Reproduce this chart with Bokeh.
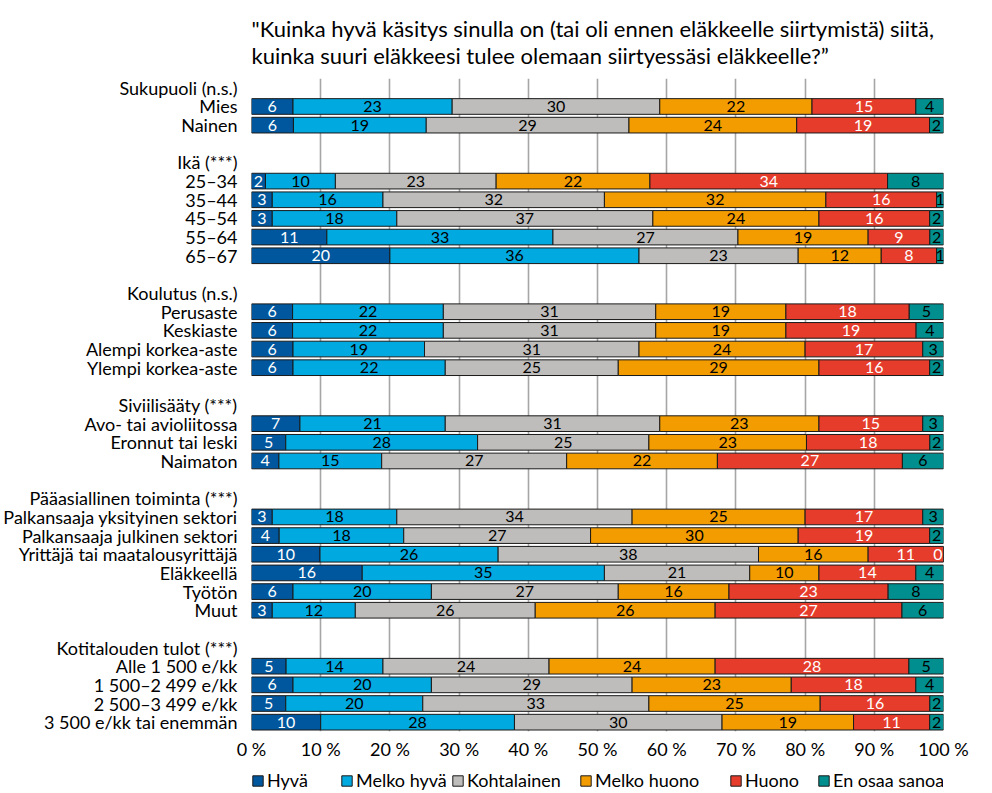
from bokeh.plotting import figure
from bokeh.layouts import column
from bokeh.models import (ColumnDataSource, FixedTicker, Range1d, Legend, LegendItem, Title)
from bokeh.core.properties import value
from bokeh.embed import file_html
from bokeh.resources import INLINE

FONT = "Lato"

title_text = ('"Kuinka hyvä käsitys sinulla on (tai oli ennen eläkkeelle siirtymistä) siitä,\n'
              'kuinka suuri eläkkeesi tulee olemaan siirtyessäsi eläkkeelle?\u201d')

series = ["Hyvä", "Melko hyvä", "Kohtalainen", "Melko huono", "Huono", "En osaa sanoa"]
colors = ["#00579D", "#00A9E0", "#BEBDBB", "#F39C00", "#E53C2B", "#008E8E"]
label_colors = ["white", "black", "black", "black", "white", "black"]

group_titles = ["Sukupuoli (n.s.)", "Ikä (***)", "Koulutus (n.s.)", "Siviilisääty (***)",
                "Pääasiallinen toiminta (***)", "Kotitalouden tulot (***)"]
group_items = [
    ["Mies", "Nainen"],
    ["25–34", "35–44", "45–54", "55–64", "65–67"],
    ["Perusaste", "Keskiaste", "Alempi korkea-aste", "Ylempi korkea-aste"],
    ["Avo- tai avioliitossa", "Eronnut tai leski", "Naimaton"],
    ["Palkansaaja yksityinen sektori", "Palkansaaja julkinen sektori",
     "Yrittäjä tai maatalousyrittäjä", "Eläkkeellä", "Työtön", "Muut"],
    ["Alle 1 500 e/kk", "1 500–2 499 e/kk", "2 500–3 499 e/kk", "3 500 e/kk tai enemmän"],
]

hyva        = [6, 6, 2, 3, 3, 11, 20, 6, 6, 6, 6, 7, 5, 4, 3, 4, 10, 16, 6, 3, 5, 6, 5, 10]
melko_hyva  = [23, 19, 10, 16, 18, 33, 36, 22, 22, 19, 22, 21, 28, 15, 18, 18, 26, 35, 20, 12, 14, 20, 20, 28]
kohtalainen = [30, 29, 23, 32, 37, 27, 23, 31, 31, 31, 25, 31, 25, 27, 34, 27, 38, 21, 27, 26, 24, 29, 33, 30]
melko_huono = [22, 24, 22, 32, 24, 19, 12, 19, 19, 24, 29, 23, 23, 22, 25, 30, 16, 10, 16, 26, 24, 23, 25, 19]
huono       = [15, 19, 34, 16, 16, 9, 8, 18, 19, 17, 16, 15, 18, 27, 17, 19, 11, 14, 23, 27, 28, 18, 16, 11]
en_osaa     = [4, 2, 8, 1, 2, 2, 1, 5, 4, 3, 2, 3, 2, 6, 3, 2, 0, 4, 8, 6, 5, 4, 2, 2]

values = [hyva, melko_hyva, kohtalainen, melko_huono, huono, en_osaa]

# row layout: header, items, blank between groups
row_labels = {}
item_rows = []
r = 0
for gi, (gt, items) in enumerate(zip(group_titles, group_items)):
    row_labels[r] = gt
    r += 1
    for it in items:
        row_labels[r] = it
        item_rows.append(r)
        r += 1
    if gi < len(group_titles) - 1:
        r += 1
n_rows = r

p = figure(width=976, height=770, output_backend="svg", toolbar_location=None,
           x_range=Range1d(0, 100), y_range=Range1d(n_rows - 0.5, -0.5),
           min_border_left=241, min_border_right=33, min_border_top=78, min_border_bottom=39,
           title=None, outline_line_color=None)

t = Title(text=title_text, align="left", offset=0, standoff=20,
          text_font=FONT, text_font_size="22px", text_font_style="normal", text_color="black")
p.add_layout(t, "above")

p.xgrid.ticker = FixedTicker(ticks=list(range(0, 101, 10)))
p.xgrid.grid_line_color = "#A6A6A6"
p.xgrid.grid_line_width = 1.6
p.ygrid.grid_line_color = None

p.xaxis.ticker = FixedTicker(ticks=list(range(0, 101, 10)))
p.xaxis.major_label_overrides = {v: f"{v} %" for v in range(0, 101, 10)}
p.xaxis.axis_line_color = None
p.xaxis.major_tick_line_color = None
p.xaxis.minor_tick_line_color = None
p.xaxis.major_label_text_font = FONT
p.xaxis.major_label_text_font_size = "18px"
p.xaxis.major_label_text_color = "black"
p.xaxis.major_label_standoff = 0

p.yaxis.ticker = FixedTicker(ticks=sorted(row_labels.keys()))
p.yaxis.major_label_overrides = {k: v for k, v in row_labels.items()}
p.yaxis.axis_line_color = None
p.yaxis.major_tick_line_color = None
p.yaxis.minor_tick_line_color = None
p.yaxis.major_label_text_font = FONT
p.yaxis.major_label_text_font_size = "18px"
p.yaxis.major_label_text_color = "black"
p.yaxis.major_label_standoff = 8

# normalize each row to 100
totals = [sum(v[i] for v in values) for i in range(len(item_rows))]
left = [0.0] * len(item_rows)
for si, (name, vals) in enumerate(zip(series, values)):
    widths = [vals[i] * 100.0 / totals[i] for i in range(len(item_rows))]
    right = [left[i] + widths[i] for i in range(len(item_rows))]
    mid = []
    align = []
    for i in range(len(item_rows)):
        if widths[i] < 0.5 and right[i] > 99.5:
            mid.append(right[i] - 0.15)
            align.append("right")
        else:
            mid.append((left[i] + right[i]) / 2)
            align.append("center")
    tcol = ["white" if (widths[i] < 0.5 and si == 5) else label_colors[si]
            for i in range(len(item_rows))]
    src = ColumnDataSource(dict(y=item_rows, left=left, right=right, mid=mid, align=align,
                                tcol=tcol, lab=[str(v) for v in vals]))
    p.hbar(y="y", left="left", right="right", height=0.84, source=src,
           fill_color=colors[si], line_color="#1a1a1a", line_width=1)
    p.text(x="mid", y="y", text="lab", source=src, text_align="align", text_baseline="middle",
           text_font=value(FONT), text_font_size="16px", text_color="tcol")
    left = right

# legend strip below the chart (its frame is aligned with the main frame)
lp = figure(width=976, height=30, output_backend="svg", toolbar_location=None,
            x_range=Range1d(0, 1), y_range=Range1d(0, 1), title=None,
            x_axis_location=None, y_axis_location=None, outline_line_color=None,
            min_border=0, min_border_left=0, min_border_right=0,
            min_border_top=0, min_border_bottom=0)
lp.xgrid.visible = False
lp.ygrid.visible = False
legend_x = [0, 89, 200, 328, 478, 566]
for si, name in enumerate(series):
    dummy = lp.quad(left=[0], right=[0], top=[0], bottom=[0], fill_color=colors[si],
                    line_color="#1a1a1a", line_width=1)
    lg = Legend(items=[LegendItem(label=name, renderers=[dummy])],
                location=(legend_x[si], 9), orientation="horizontal",
                padding=0, margin=0, border_line_color=None, background_fill_alpha=0,
                glyph_width=13, glyph_height=13, label_standoff=3, label_height=16,
                label_text_font=FONT, label_text_font_size="18px", label_text_color="black")
    lp.add_layout(lg, "center")

open("out.html", "w").write(file_html(column(p, lp, spacing=0), INLINE))
